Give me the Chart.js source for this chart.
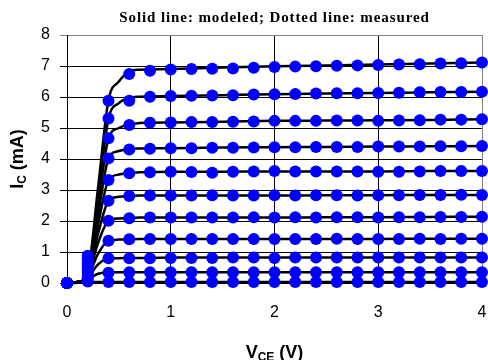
<!DOCTYPE html>
<html>
<head>
<meta charset="utf-8">
<script src="https://cdn.jsdelivr.net/npm/chart.js@4.4.1/dist/chart.umd.min.js"></script>
<style>
  html, body { margin: 0; padding: 0; background: #fff; }
</style>
</head>
<body>
<canvas id="myChart" width="488" height="360"></canvas>
<script>
// Collector-emitter voltage steps (V)
const vceMeasured = [0, 0.2, 0.4, 0.6, 0.8, 1.0, 1.2, 1.4, 1.6, 1.8, 2.0, 2.2, 2.4, 2.6, 2.8, 3.0, 3.2, 3.4, 3.6, 3.8, 4.0];
const vceModel = [0, 0.1, 0.2, 0.3, 0.4, 0.5, 0.6, 0.7, 0.8, 1.0, 1.5, 2.0, 2.5, 3.0, 3.5, 4.0];

// Measured collector current (mA), one array per base-current step
const meas1 = [0, 0.88, 5.88, 6.74, 6.85, 6.89, 6.90, 6.91, 6.92, 6.94, 6.97, 6.98, 6.99, 7.01, 7.02, 7.03, 7.05, 7.06, 7.08, 7.09, 7.11];
const meas2 = [0, 0.80, 5.31, 5.88, 6.01, 6.03, 6.04, 6.05, 6.06, 6.08, 6.09, 6.10, 6.11, 6.12, 6.12, 6.13, 6.14, 6.15, 6.16, 6.16, 6.17];
const meas3 = [0, 0.72, 4.67, 5.10, 5.17, 5.18, 5.19, 5.19, 5.20, 5.21, 5.23, 5.23, 5.23, 5.24, 5.24, 5.23, 5.24, 5.25, 5.27, 5.27, 5.28];
const meas4 = [0, 0.64, 4.02, 4.31, 4.33, 4.35, 4.35, 4.36, 4.36, 4.37, 4.38, 4.38, 4.39, 4.39, 4.39, 4.40, 4.40, 4.40, 4.41, 4.41, 4.42];
const meas5 = [0, 0.56, 3.32, 3.54, 3.57, 3.59, 3.58, 3.56, 3.59, 3.60, 3.61, 3.60, 3.60, 3.60, 3.60, 3.59, 3.59, 3.60, 3.61, 3.61, 3.61];
const meas6 = [0, 0.48, 2.65, 2.81, 2.82, 2.82, 2.82, 2.83, 2.82, 2.82, 2.83, 2.82, 2.83, 2.83, 2.82, 2.83, 2.83, 2.84, 2.84, 2.85, 2.84];
const meas7 = [0, 0.40, 2.01, 2.09, 2.11, 2.11, 2.11, 2.11, 2.11, 2.12, 2.11, 2.12, 2.11, 2.12, 2.12, 2.11, 2.12, 2.12, 2.13, 2.13, 2.14];
const meas8 = [0, 0.32, 1.36, 1.41, 1.42, 1.42, 1.42, 1.42, 1.42, 1.42, 1.42, 1.42, 1.42, 1.43, 1.42, 1.42, 1.42, 1.43, 1.42, 1.43, 1.43];
const meas9 = [0, 0.24, 0.80, 0.80, 0.80, 0.81, 0.81, 0.81, 0.82, 0.82, 0.81, 0.82, 0.82, 0.82, 0.82, 0.82, 0.82, 0.82, 0.82, 0.82, 0.82];
const meas10 = [0, 0.15, 0.33, 0.35, 0.35, 0.35, 0.35, 0.35, 0.35, 0.35, 0.35, 0.35, 0.35, 0.35, 0.35, 0.35, 0.35, 0.35, 0.35, 0.35, 0.35];
const meas11 = [0, 0.05, 0.03, 0.03, 0.03, 0.03, 0.03, 0.03, 0.03, 0.03, 0.03, 0.03, 0.03, 0.03, 0.03, 0.03, 0.03, 0.03, 0.03, 0.03, 0.03];

// Modeled collector current (mA)
const model1 = [0, 0.03, 0.35, 3.10, 5.90, 6.50, 6.82, 6.88, 6.89, 6.90, 6.95, 6.99, 7.02, 7.05, 7.08, 7.11];
const model2 = [0, 0.03, 0.33, 2.80, 5.30, 5.80, 5.97, 6.01, 6.02, 6.03, 6.06, 6.09, 6.11, 6.13, 6.15, 6.17];
const model3 = [0, 0.03, 0.30, 2.50, 4.67, 5.00, 5.12, 5.16, 5.17, 5.18, 5.20, 5.23, 5.24, 5.25, 5.26, 5.28];
const model4 = [0, 0.03, 0.28, 2.20, 4.02, 4.26, 4.32, 4.34, 4.35, 4.35, 4.37, 4.38, 4.39, 4.40, 4.41, 4.42];
const model5 = [0, 0.03, 0.26, 1.90, 3.32, 3.50, 3.56, 3.57, 3.58, 3.59, 3.59, 3.60, 3.60, 3.60, 3.61, 3.61];
const model6 = [0, 0.03, 0.24, 1.60, 2.65, 2.78, 2.81, 2.82, 2.82, 2.82, 2.82, 2.82, 2.83, 2.83, 2.84, 2.84];
const model7 = [0, 0.02, 0.22, 1.30, 2.01, 2.08, 2.10, 2.11, 2.11, 2.11, 2.11, 2.11, 2.12, 2.12, 2.13, 2.14];
const model8 = [0, 0.02, 0.20, 0.95, 1.36, 1.40, 1.41, 1.42, 1.42, 1.42, 1.42, 1.42, 1.42, 1.42, 1.43, 1.43];
const model9 = [0, 0.02, 0.17, 0.60, 0.79, 0.80, 0.81, 0.81, 0.81, 0.82, 0.82, 0.82, 0.82, 0.82, 0.82, 0.82];
const model10 = [0, 0.01, 0.12, 0.30, 0.34, 0.35, 0.35, 0.35, 0.35, 0.35, 0.35, 0.35, 0.35, 0.35, 0.35, 0.35];
const model11 = [0, 0.01, 0.03, 0.03, 0.03, 0.03, 0.03, 0.03, 0.03, 0.03, 0.03, 0.03, 0.03, 0.03, 0.03, 0.03];

const yTicks = [0, 1, 2, 3, 4, 5, 6, 7, 8];
const xTicks = [0, 1, 2, 3, 4];
const titleText = 'Solid line: modeled; Dotted line: measured';

const measuredSets = [meas1, meas2, meas3, meas4, meas5, meas6, meas7, meas8, meas9, meas10, meas11];
const modelSets = [model1, model2, model3, model4, model5, model6, model7, model8, model9, model10, model11];

const sansFont = '"Liberation Sans", Arial, sans-serif';

function toPoints(xs, ys) {
    return ys.map((y, i) => ({ x: xs[i], y: y }));
}

const datasets = [];
modelSets.forEach((ys, i) => {
    datasets.push({
        label: 'model ' + (i + 1),
        data: toPoints(vceModel, ys),
        borderColor: '#000000',
        borderWidth: 2.5,
        pointRadius: 0,
        cubicInterpolationMode: 'monotone',
        clip: false,
        order: 2
    });
});
measuredSets.forEach((ys, i) => {
    datasets.push({
        label: 'measured ' + (i + 1),
        data: toPoints(vceMeasured, ys),
        showLine: false,
        pointRadius: 6,
        pointBackgroundColor: '#0000ff',
        pointBorderColor: '#0000ff',
        pointBorderWidth: 0,
        clip: false,
        order: 1
    });
});

// draws a label like "V" + subscript "CE" + " (V)" centered on cx
function drawSubLabel(ctx, main, sub, rest, cx, baseY) {
    const bigFont = 'bold 18px ' + sansFont;
    const smallFont = 'bold 12px ' + sansFont;
    ctx.font = bigFont;
    const w1 = ctx.measureText(main).width;
    const w3 = ctx.measureText(rest).width;
    ctx.font = smallFont;
    const w2 = ctx.measureText(sub).width;
    let x = cx - (w1 + w2 + w3) / 2;
    ctx.textAlign = 'left';
    ctx.font = bigFont;
    ctx.fillText(main, x, baseY);
    x += w1;
    ctx.font = smallFont;
    ctx.fillText(sub, x, baseY + 3);
    x += w2;
    ctx.font = bigFont;
    ctx.fillText(rest, x, baseY);
}

const axisText = {
    id: 'axisText',
    afterDraw(chart) {
        const ctx = chart.ctx;
        const area = chart.chartArea;
        const cx = (area.left + area.right) / 2;
        ctx.save();
        ctx.fillStyle = '#000';
        ctx.textBaseline = 'alphabetic';

        ctx.font = 'bold 15px "Liberation Serif", "Times New Roman", serif';
        ctx.letterSpacing = '0.9px';
        ctx.textAlign = 'center';
        ctx.fillText(titleText, cx, 22);
        ctx.letterSpacing = '0px';

        drawSubLabel(ctx, 'V', 'CE', ' (V)', cx, 358);

        ctx.translate(23, (area.top + area.bottom) / 2);
        ctx.rotate(-Math.PI / 2);
        drawSubLabel(ctx, 'I', 'C', ' (mA)', 0, 0);
        ctx.restore();
    }
};

const ctx = document.getElementById('myChart').getContext('2d');
const myChart = new Chart(ctx, {
    type: 'line',
    data: { datasets: datasets },
    plugins: [axisText],
    options: {
        responsive: false,
        animation: false,
        layout: { padding: { top: 35, right: 6, left: 0, bottom: 0 } },
        plugins: {
            legend: { display: false },
            title: { display: false },
            tooltip: { enabled: false }
        },
        scales: {
            x: {
                type: 'linear',
                min: 0,
                max: 4,
                afterBuildTicks: s => { s.ticks = xTicks.map(v => ({ value: v })); },
                afterFit: s => { s.height = 77; },
                ticks: {
                    color: '#000',
                    padding: 0,
                    font: { family: sansFont, size: 16 }
                },
                grid: {
                    tickLength: 20,
                    tickColor: 'rgba(0,0,0,0)',
                    color: c => (c.tick && c.tick.value === 4 ? '#808080' : '#000000'),
                    lineWidth: 1
                },
                border: { color: '#000000', width: 1 }
            },
            y: {
                min: 0,
                max: 8,
                afterBuildTicks: s => { s.ticks = yTicks.map(v => ({ value: v })); },
                afterFit: s => { s.width = 67; },
                ticks: {
                    color: '#000',
                    padding: 10,
                    font: { family: sansFont, size: 16 }
                },
                grid: {
                    tickLength: 7,
                    color: c => (c.tick && c.tick.value === 8 ? '#808080' : '#000000'),
                    lineWidth: 1
                },
                border: { color: '#000000', width: 1 }
            }
        }
    }
});
</script>
</body>
</html>
